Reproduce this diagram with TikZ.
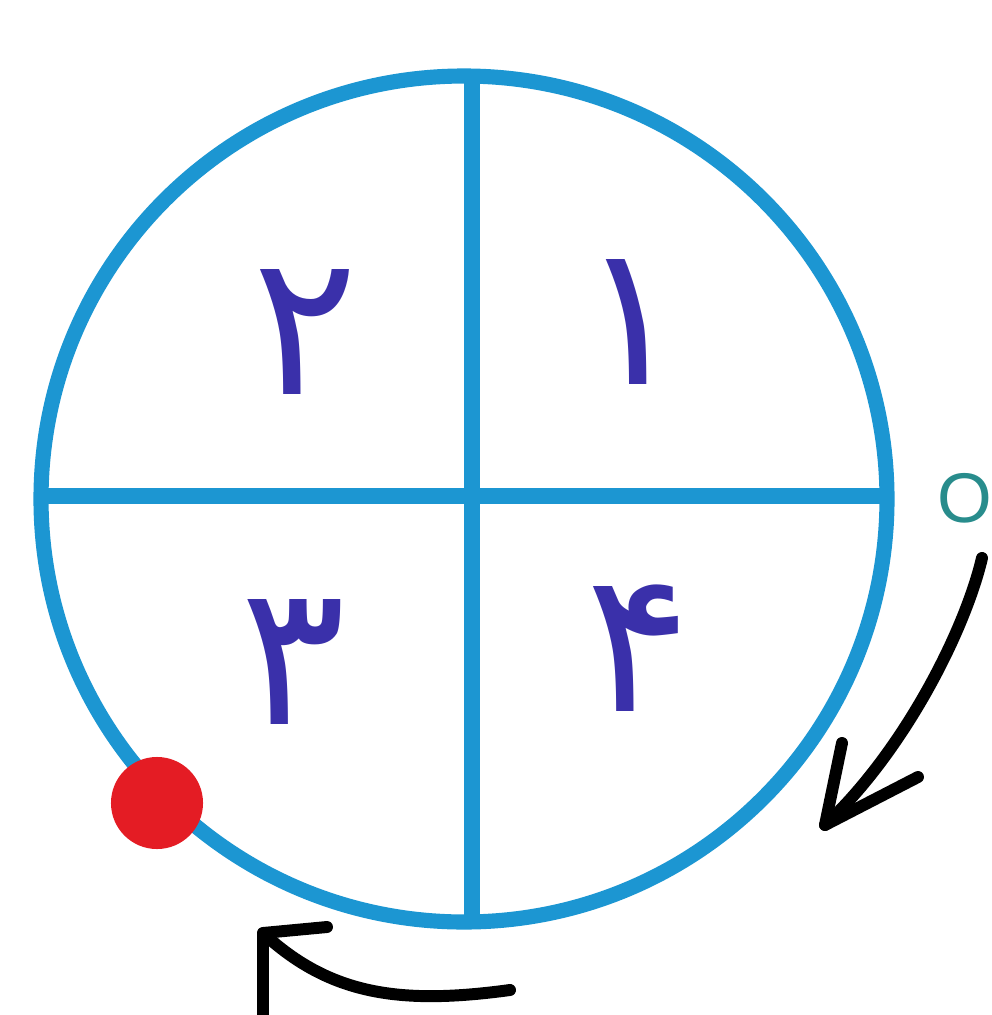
\documentclass[tikz,border=0pt]{standalone}
\usepackage{fontspec}
\setmainfont{Liberation Sans}
\newfontfamily\farsifont[Script=Arabic]{DejaVu Sans}
\usetikzlibrary{calc}
\definecolor{ringblue}{RGB}{28,150,210}
\definecolor{digitblue}{RGB}{58,48,170}
\definecolor{markred}{RGB}{228,28,36}
\definecolor{labelteal}{RGB}{40,140,140}

\begin{document}
\begin{tikzpicture}[x=0.01cm,y=-0.01cm,
  ring/.style={draw=ringblue,line width=4.3pt},
  digit/.style={text=digitblue,inner sep=0pt,font=\farsifont\fontsize{56}{60}\selectfont},
  hand/.style={line width=3.4pt,line cap=round,line join=round}]
 \useasboundingbox (0,0) rectangle (992,1015);
 \coordinate (c) at (464,499);
 \draw[ring] (c) circle[radius=423];
 \draw[ring] (472,76)--(472,922);
 \draw[ring] (41,496)--(887,496);
 \node[digit] (q1) at (632,322) {۱};
 \node[digit] (q2) at (305,332) {۲};
 \node[digit] (q3) at (293,662) {۳};
 \node[digit] (q4) at (638,648) {۴};
 \node[text=labelteal,font=\fontsize{20}{22}\selectfont,inner sep=0pt] (zero) at (965,498) {O};
 \node[circle,fill=markred,minimum size=0.92cm,inner sep=0pt] (mark) at (157,803) {};
 % turning arrows
 \coordinate (s1) at (982,558);
 \coordinate (t1) at (825,825);
 \draw[hand] (s1) .. controls (965,630) and (905,750) .. (t1);
 \draw[hand] (842,743)--(t1)--(918,777);
 \coordinate (s2) at (510,990);
 \coordinate (t2) at (263,933);
 \draw[hand] (s2) .. controls (400,1005) and (330,995) .. (t2);
 \draw[hand] (263,1030)--(t2)--(327,927);
\end{tikzpicture}
\end{document}
